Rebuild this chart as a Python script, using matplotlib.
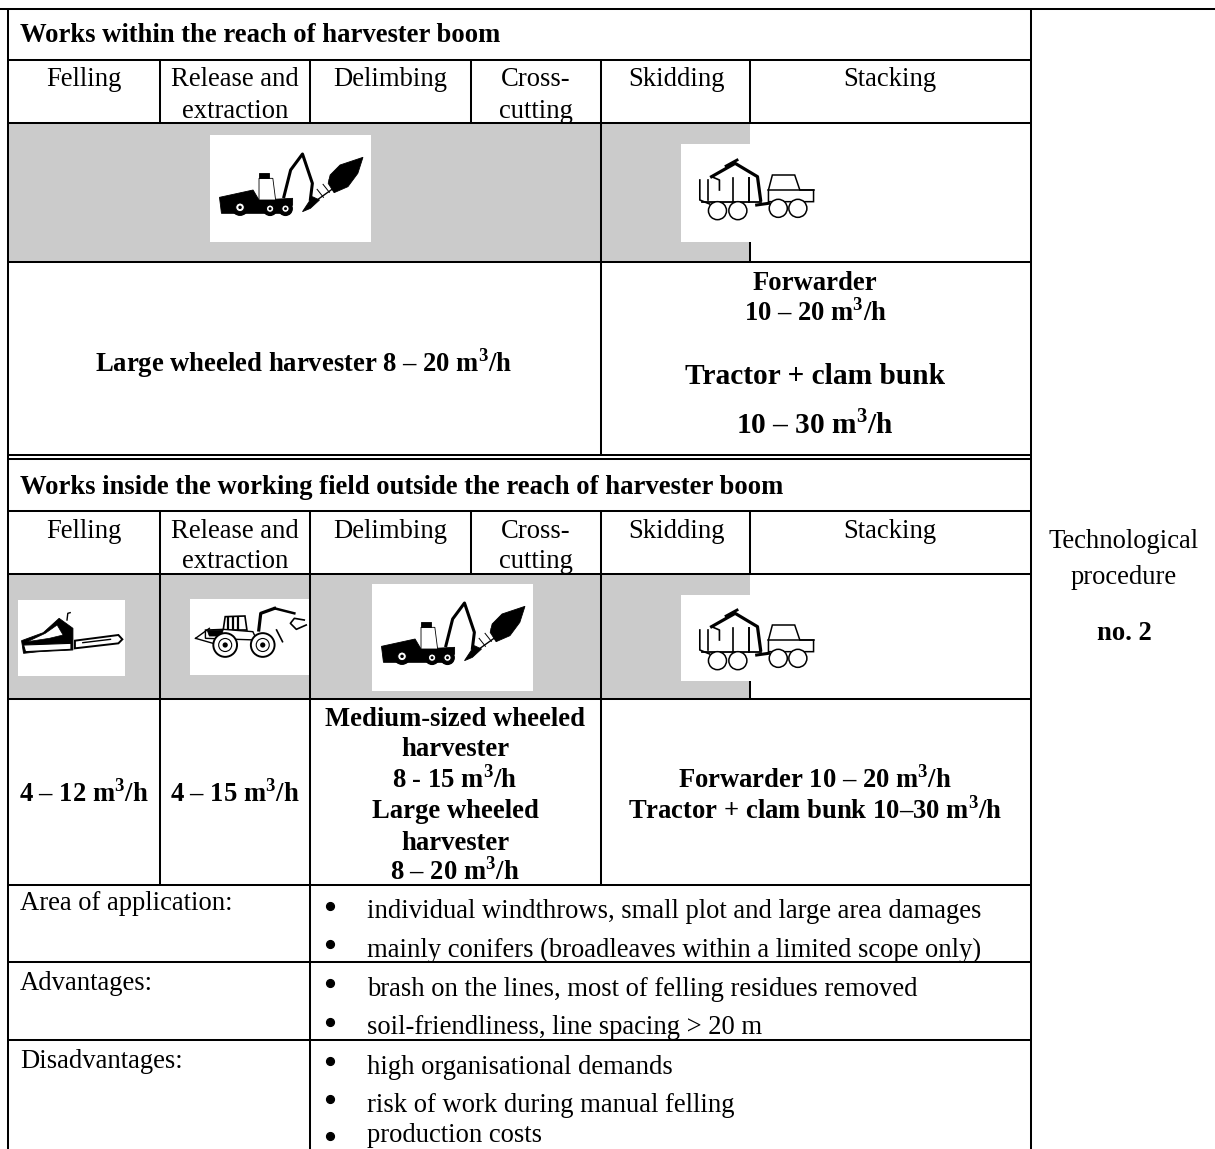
import matplotlib
matplotlib.use("Agg")
import matplotlib.pyplot as plt
from matplotlib.patches import Rectangle, Polygon, Circle

plt.rcParams['font.family'] = ['Liberation Serif', 'DejaVu Serif']
plt.rcParams['mathtext.fontset'] = 'custom'
plt.rcParams['mathtext.rm'] = 'Liberation Serif'
plt.rcParams['mathtext.bf'] = 'Liberation Serif:bold'

M3 = r"m$^{\mathbf{3}}$/h"
section_titles = ["Works within the reach of harvester boom",
                  "Works inside the working field outside the reach of harvester boom"]
operations = ["Felling", "Release and\nextraction", "Delimbing", "Cross-\ncutting", "Skidding", "Stacking"]
column_edges = [160, 310, 471, 601, 750, 1031]
op_centers = [84, 235, 390, 536, 676, 890]
top_left_label = f"Large wheeled harvester 8 – 20 {M3}"
top_right_labels = ["Forwarder", f"10 – 20 {M3}", "Tractor + clam bunk", f"10 – 30 {M3}"]
felling_output = f"4 – 12 {M3}"
release_output = f"4 – 15 {M3}"
middle_labels = ["Medium-sized wheeled", "harvester", f"8 - 15 {M3}", "Large wheeled", "harvester", f"8 – 20 {M3}"]
right_labels = [f"Forwarder 10 – 20 {M3}", f"Tractor + clam bunk 10–30 {M3}"]
notes = [("Area of application:", ["individual windthrows, small plot and large area damages",
                                  "mainly conifers (broadleaves within a limited scope only)"]),
         ("Advantages:", ["brash on the lines, most of felling residues removed",
                          "soil-friendliness, line spacing > 20 m"]),
         ("Disadvantages:", ["high organisational demands",
                             "risk of work during manual felling",
                             "production costs"])]
side_labels = ["Technological", "procedure"]
side_number = "no. 2"

W, H = 1215, 1149
fig = plt.figure(figsize=(W/100, H/100), dpi=100)
ax = fig.add_axes([0, 0, 1, 1])
ax.set_xlim(0, W); ax.set_ylim(H, 0); ax.axis('off')
GREY = '#cbcbcb'
FS = 19.2

def t(x, y, s, ha='center', size=FS, bold=False):
    if '$' in s:
        y -= 1
    ax.text(x, y, s, ha=ha, va='center_baseline', fontsize=size,
            fontweight='bold' if bold else 'normal', color='black', zorder=5)

def rect(x0, y0, x1, y1, c, z=1):
    ax.add_patch(Rectangle((x0, y0), x1-x0, y1-y0, fc=c, ec='none', zorder=z))

def line(x0, y0, x1, y1, lw=1.45):
    ax.plot([x0, x1], [y0, y1], color='black', lw=lw, solid_capstyle='butt', zorder=6)

def poly(o, sx, sy, pts, fc='black', ec='black', lw=0.6):
    ax.add_patch(Polygon([(o[0]+(a-o[2])/sx, o[1]+(b-o[3])/sy) for a, b in pts],
                         closed=True, fc=fc, ec=ec, lw=lw, zorder=3))

def path(o, sx, sy, pts, lw=1.5):
    ax.plot([o[0]+(a-o[2])/sx for a, b in pts], [o[1]+(b-o[3])/sy for a, b in pts],
            color='black', lw=lw, zorder=3, solid_joinstyle='round')

def wheel(o, sx, sy, cx, cy, r, fc='white', lw=1.0, hub=False):
    c = (o[0]+(cx-o[2])/sx, o[1]+(cy-o[3])/sy)
    ax.add_patch(Circle(c, r/sx, fc=fc, ec='black', lw=lw, zorder=4))
    if hub:
        ax.add_patch(Circle(c, r/sx*0.55, fc='white', ec='black', lw=0.8, zorder=4))
        ax.add_patch(Circle(c, r/sx*0.22, fc='black', ec='none', zorder=4))

def harvester(x, y):
    o = (x, y, 531, 405); s = (2.53, 3)
    poly(o, *s, [(555, 592), (640, 570), (655, 600), (740, 595), (740, 615), (720, 640), (560, 640)])
    poly(o, *s, [(655, 535), (690, 535), (697, 600), (655, 600)], fc='white')
    poly(o, *s, [(655, 520), (680, 520), (680, 535), (655, 535)])
    path(o, *s, [(718, 590), (735, 510), (765, 462), (790, 550), (785, 598)], 2.2)
    poly(o, *s, [(765, 635), (790, 590), (808, 600), (785, 625)])
    path(o, *s, [(790, 610), (855, 555)], 1.0)
    for a, b in [(810, 580), (825, 565), (840, 552)]:
        path(o, *s, [(a-8, b-12), (a+8, b+12)], 0.7)
    poly(o, *s, [(835, 525), (860, 495), (918, 472), (905, 520), (880, 560), (845, 578), (830, 550)])
    wheel(o, *s, 607, 622, 20, fc='black', hub=True)
    wheel(o, *s, 683, 626, 17, fc='black', hub=True)
    wheel(o, *s, 722, 626, 17, fc='black', hub=True)

def forwarder(x, y):
    o = (x, y, 207, 432); s = (2.55, 3)
    path(o, *s, [(255, 540), (255, 600), (280, 612)], 1.2)
    path(o, *s, [(275, 540), (275, 600)], 1.2)
    path(o, *s, [(340, 535), (340, 605)], 1.2)
    path(o, *s, [(380, 535), (380, 605)], 1.4)
    path(o, *s, [(260, 607), (410, 607)], 1.3)
    path(o, *s, [(285, 530), (345, 490), (402, 530), (410, 600)], 2.3)
    path(o, *s, [(322, 498), (350, 480)], 2)
    path(o, *s, [(285, 530), (305, 540), (305, 570)], 1.2)
    path(o, *s, [(400, 615), (430, 610)], 2.2)
    poly(o, *s, [(430, 570), (440, 525), (497, 525), (510, 570), (545, 570), (545, 605), (430, 605)],
         fc='white', lw=1.1)
    path(o, *s, [(430, 570), (545, 570)], 1.1)
    for cx, cy in [(300, 632), (352, 632), (455, 625), (505, 625)]:
        wheel(o, *s, cx, cy, 23, lw=1.1)

def chainsaw(x, y):
    o = (x, y, 46, 90); s = (2.53, 3)
    poly(o, *s, [(55, 212), (110, 188), (150, 145), (185, 175), (185, 240), (100, 245), (60, 250)])
    poly(o, *s, [(70, 215), (115, 190), (145, 165), (160, 195), (125, 205)], fc='white', lw=0.5)
    poly(o, *s, [(60, 225), (180, 220), (180, 238), (65, 245)], fc='white', lw=0.8)
    path(o, *s, [(170, 150), (172, 130), (178, 128)], 1.0)
    poly(o, *s, [(190, 212), (300, 195), (310, 208), (300, 220), (190, 235)], fc='white', lw=1.4)
    path(o, *s, [(210, 218), (280, 208)], 1.0)

def skidder(x, y):
    o = (x, y, 481, 87); s = (2.53, 3)
    poly(o, *s, [(565, 180), (570, 140), (620, 138), (625, 180)], fc='white', lw=1.2)
    for b in (578, 590, 602):
        path(o, *s, [(b, 143), (b, 178)], 1.6)
    poly(o, *s, [(520, 180), (565, 178), (640, 185), (650, 210), (520, 205)], fc='white', lw=1.0)
    poly(o, *s, [(525, 182), (565, 180), (560, 198), (530, 198)])
    path(o, *s, [(495, 205), (530, 175)], 1.0)
    path(o, *s, [(495, 205), (545, 222)], 1.0)
    path(o, *s, [(655, 180), (660, 130), (695, 115)], 2.3)
    path(o, *s, [(695, 115), (745, 130)], 1.8)
    path(o, *s, [(770, 150), (745, 145), (735, 160), (750, 178), (775, 165)], 1.2)
    path(o, *s, [(700, 180), (715, 215)], 1.2)
    wheel(o, *s, 570, 225, 30, hub=True, lw=1.4)
    wheel(o, *s, 665, 225, 30, hub=True, lw=1.4)

# Shaded rows and white picture boxes
rect(8, 123, 750, 262, GREY)
rect(8, 574, 750, 699, GREY)
for x0, y0, x1, y1 in [(210, 135, 371, 242), (681, 144, 750, 242), (18, 600, 125, 676),
                       (190, 599, 310, 675), (372, 584, 533, 691), (681, 595, 750, 681)]:
    rect(x0, y0, x1, y1, 'white', z=2)
harvester(210, 135); forwarder(681, 144)
chainsaw(18, 600); skidder(190, 599); harvester(372, 584); forwarder(681, 594)

# Text
t(20, 33, section_titles[0], ha='left', bold=True)
t(20, 484, section_titles[1], ha='left', bold=True)
for y0 in (77, 528):
    for c, s in zip(op_centers, operations):
        parts = s.split("\n")
        for i, p in enumerate(parts):
            t(c, y0 + 31*i, p)
t(304, 360, top_left_label, bold=True)
t(815, 281, top_right_labels[0], bold=True)
t(815, 311, top_right_labels[1], bold=True)
t(815, 373, top_right_labels[2], bold=True, size=21.2)
t(815, 422, top_right_labels[3], bold=True, size=21.2)
t(84, 792, felling_output, bold=True)
t(235, 792, release_output, bold=True)
for y, s in zip([716, 747, 778, 809, 840, 870], middle_labels):
    t(455, y, s, bold=True)
for y, s in zip([778, 809], right_labels):
    t(815, y, s, bold=True)
note_y = [[909, 947], [986, 1025], [1064, 1102, 1133]]
label_y = [901, 980, 1058]
bullet_y = [[909, 947], [986, 1025], [1064, 1102, 1139]]
for (lab, items), ly, ys, bs in zip(notes, label_y, note_y, bullet_y):
    t(20, ly, lab, ha='left')
    for y, b, s in zip(ys, bs, items):
        t(367, y, s, ha='left')
        ax.plot([330], [b-3], 'o', color='black', ms=5.6, zorder=5)
t(1124, 538, side_labels[0])
t(1124, 575, side_labels[1])
t(1124, 631, side_number, bold=True)

# Rules
line(0, 8.5, W, 8.5)
line(8, 8, 8, H)
line(1031, 8, 1031, H)
for y in (60, 123, 262, 455, 459, 511, 574, 699, 885, 962, 1040):
    line(8, y, 1031, y)
for y0, y1 in [(60, 123), (511, 574)]:
    for x in column_edges[:-1]:
        line(x, y0, x, y1)
line(601, 123, 601, 455)
line(750, 242, 750, 262)
for x in (160, 310, 601):
    line(x, 574, x, 885)
line(750, 681, 750, 699)
line(310, 885, 310, H)

fig.savefig("out.png", dpi=100)
